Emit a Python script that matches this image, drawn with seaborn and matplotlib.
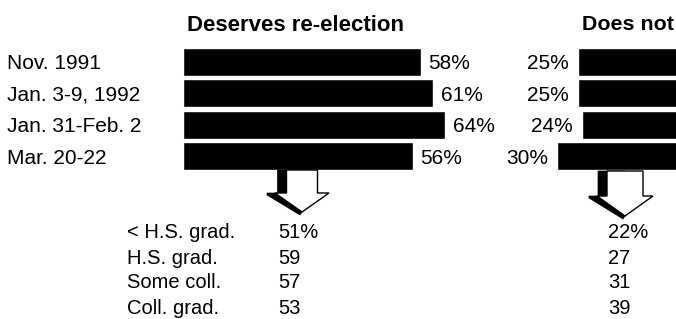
import matplotlib
matplotlib.use("Agg")
import matplotlib.pyplot as plt
import seaborn as sns
import pandas as pd
from matplotlib.patches import Polygon

# poll dates and shares
polls = ["Nov. 1991", "Jan. 3-9, 1992", "Jan. 31-Feb. 2", "Mar. 20-22"]
deserves = [58, 61, 64, 56]
does_not = [25, 25, 24, 30]

# latest poll broken down by education
education = ["< H.S. grad.", "H.S. grad.", "Some coll.", "Coll. grad."]
edu_deserves = ["51%", "59", "57", "53"]
edu_does_not = ["22%", "27", "31", "39"]

W, H = 676, 319

sns.set_theme(style="white")
plt.rcParams["font.family"] = ["Liberation Sans", "DejaVu Sans"]
plt.rcParams["text.color"] = "black"

fig = plt.figure(figsize=(W / 100, H / 100), dpi=100)
fig.patch.set_facecolor("white")


def box(x0, y_top, x1, y_bot):
    # pixel box (top-left origin) -> figure fraction rect
    return [x0 / W, 1 - y_bot / H, (x1 - x0) / W, (y_bot - y_top) / H]


def fx(x):
    return x / W


def fy(y):
    return 1 - y / H


df = pd.DataFrame({"poll": polls, "deserves": deserves, "does_not": does_not})

# -------------------------------
# Bars
# -------------------------------
ax1 = fig.add_axes(box(183, 46, 593, 172))
ax2 = fig.add_axes(box(270, 46, 680, 172))

sns.barplot(data=df, x="deserves", y="poll", color="black", saturation=1,
            width=0.88, ax=ax1)
sns.barplot(data=df, x="does_not", y="poll", color="black", saturation=1,
            width=0.88, ax=ax2)

ax1.set_xlim(0, 100)
ax2.set_xlim(100, 0)
for ax in (ax1, ax2):
    ax.set_ylim(3.5, -0.5)
    ax.set_axis_off()
    ax.patch.set_alpha(0)

val_size = 15
for i, v in enumerate(deserves):
    ax1.text(v + 1.9, i, f"{v}%", ha="left", va="center_baseline", fontsize=val_size)
for i, v in enumerate(does_not):
    ax2.text(v + 2.2, i, f"{v}%", ha="right", va="center_baseline", fontsize=val_size)

for i, p in enumerate(polls):
    ax1.annotate(p, xy=(7 / W, i), xycoords=("figure fraction", "data"),
                 ha="left", va="center_baseline", fontsize=val_size,
                 annotation_clip=False)

# titles
fig.text(fx(187), fy(23), "Deserves re-election", fontsize=16,
         fontweight="bold", va="center_baseline", ha="left")
fig.text(fx(582), fy(23), "Does not", fontsize=15.4,
         fontweight="bold", va="center_baseline", ha="left")


# -------------------------------
# 3D arrows
# -------------------------------
def to_fig(pts):
    return [(fx(x), fy(y)) for x, y in pts]


def draw_arrow(cx, y0, shaft_w, shaft_len, head_w, head_len):
    ys = y0 + shaft_len
    tip = (cx, ys + head_len)
    front = [
        (cx - shaft_w / 2, y0), (cx + shaft_w / 2, y0),
        (cx + shaft_w / 2, ys), (cx + head_w / 2, ys), tip,
        (cx - head_w / 2, ys), (cx - shaft_w / 2, ys),
    ]
    # thick black edge on the left side, meeting the tip
    shadow = [
        (cx - shaft_w / 2 - 9, y0), (cx, y0), (cx, ys), tip,
        (cx - 2, ys + head_len + 3),
        (cx - head_w / 2 - 8, ys + 2), (cx - head_w / 2 - 8, ys),
        (cx - shaft_w / 2 - 9, ys),
    ]
    fig.patches.append(Polygon(to_fig(shadow), closed=True, facecolor="black",
                               edgecolor="black", lw=0.5,
                               transform=fig.transFigure))
    fig.patches.append(Polygon(to_fig(front), closed=True, facecolor="white",
                               edgecolor="black", lw=1.0,
                               transform=fig.transFigure))


draw_arrow(302, 170, 31, 23, 54, 19)
draw_arrow(625, 171, 36, 25, 56, 20)

# -------------------------------
# Education breakdown
# -------------------------------
row_y = [231, 256, 281, 306]
tbl_size = 14.5
for y, lab, a, b in zip(row_y, education, edu_deserves, edu_does_not):
    fig.text(fx(127), fy(y), lab, fontsize=tbl_size, ha="left", va="center_baseline")
    fig.text(fx(278), fy(y), a, fontsize=tbl_size, ha="left", va="center_baseline")
    fig.text(fx(608), fy(y), b, fontsize=tbl_size, ha="left", va="center_baseline")

fig.savefig("out.png", dpi=100)
